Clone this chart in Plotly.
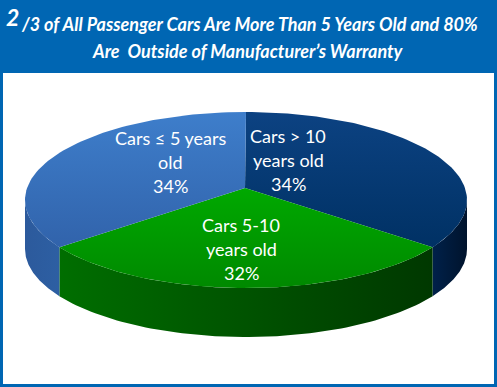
import numpy as np
import plotly.graph_objects as go

# ---- data ----
labels = [["Cars > 10", "years old"], ["Cars 5-10", "years old"], ["Cars \u2264 5 years", "old"]]
values = [34, 32, 34]
top_colors = [["#0c4282", "#003164"], ["#00a900", "#008900"], ["#3e7ecb", "#3163ab"]]
side_colors = [["#00214a", "#00132c"], ["#006e00", "#003800"], ["#2c5a9c", "#2d5fa3"]]
title_numerator = "2"
title_line1 = "/3 of All Passenger Cars Are More Than 5 Years Old and 80%"
title_line2 = "Are  Outside of Manufacturer\u2019s Warranty"

W, H = 497, 387
BLUE = "#0066b3"
cx, cy, a, b, depth = 246, 200, 221, 88, 49
apex = (245, 188)
label_pos = [(288, 136), (241, 225), (170, 138)]
line_gap = 24

fig = go.Figure()

total = sum(values)
starts = []
ang = 90.0
for v in values:
    span = 360.0 * v / total
    starts.append((ang, ang - span))
    ang -= span

def arc(t0, t1, n=80, dy=0):
    t = np.radians(np.linspace(t0, t1, n))
    return cx + a * np.cos(t), cy - b * np.sin(t) + dy

# sides (front half: angles between -180 and 0)
for (t0, t1), sc in zip(starts, side_colors):
    lo, hi = t1, t0
    for shift in (0, -360, 360):
        s_lo, s_hi = max(lo + shift, -180), min(hi + shift, 0)
        if s_hi > s_lo:
            xu, yu = arc(s_hi, s_lo)
            xl, yl = arc(s_lo, s_hi, dy=depth)
            xs = np.concatenate([xu, xl, xu[:1]])
            ys = np.concatenate([yu, yl, yu[:1]])
            fig.add_trace(go.Scatter(x=xs, y=ys, mode="lines", line=dict(width=0),
                                     fill="toself",
                                     fillgradient=dict(type="horizontal",
                                                       colorscale=[[0, sc[0]], [1, sc[1]]]),
                                     hoverinfo="skip", showlegend=False))

# top faces
for (t0, t1), tc in zip(starts, top_colors):
    xa, ya = arc(t0, t1)
    xs = np.concatenate([[apex[0]], xa, [apex[0]]])
    ys = np.concatenate([[apex[1]], ya, [apex[1]]])
    fig.add_trace(go.Scatter(x=xs, y=ys, mode="lines", line=dict(width=0),
                             fill="toself",
                             fillgradient=dict(type="vertical",
                                               colorscale=[[0, tc[1]], [1, tc[0]]]),
                             hoverinfo="skip", showlegend=False))

FONT = "Lato, 'Liberation Sans Narrow', sans-serif"
lab_font = dict(family=FONT, size=18, color="white")
for lab, v, (lx, ly) in zip(labels, values, label_pos):
    for k, line in enumerate(lab + [f"{v}%"]):
        fig.add_annotation(x=lx, y=ly + k * line_gap, xref="x", yref="y", text=line,
                           showarrow=False, font=lab_font, align="center")

tfont = dict(family=FONT, size=18, color="white", weight="bold", style="italic")
fig.add_annotation(x=20, y=17, xref="x", yref="y", text=title_numerator, showarrow=False,
                   xanchor="right", borderpad=0,
                   font=dict(family=FONT, size=23, color="white", weight="bold", style="italic"))
fig.add_annotation(x=20, y=24, xref="x", yref="y", text=title_line1, showarrow=False,
                   font=tfont, xanchor="left", borderpad=0)
fig.add_annotation(x=248, y=51, xref="x", yref="y", text=title_line2, showarrow=False, font=tfont)

fig.update_layout(
    width=W, height=H, margin=dict(l=0, r=0, t=0, b=0),
    paper_bgcolor=BLUE, plot_bgcolor=BLUE,
    xaxis=dict(range=[0, W], visible=False, fixedrange=True),
    yaxis=dict(range=[H, 0], visible=False, fixedrange=True),
    shapes=[dict(type="rect", xref="x", yref="y", x0=3, x1=494, y0=73, y1=384,
                 fillcolor="white", line=dict(width=0), layer="below")],
)

fig.write_html("out.html", config={"displayModeBar": False},
               post_script="document.body.style.margin='0';document.body.style.overflow='hidden';")
